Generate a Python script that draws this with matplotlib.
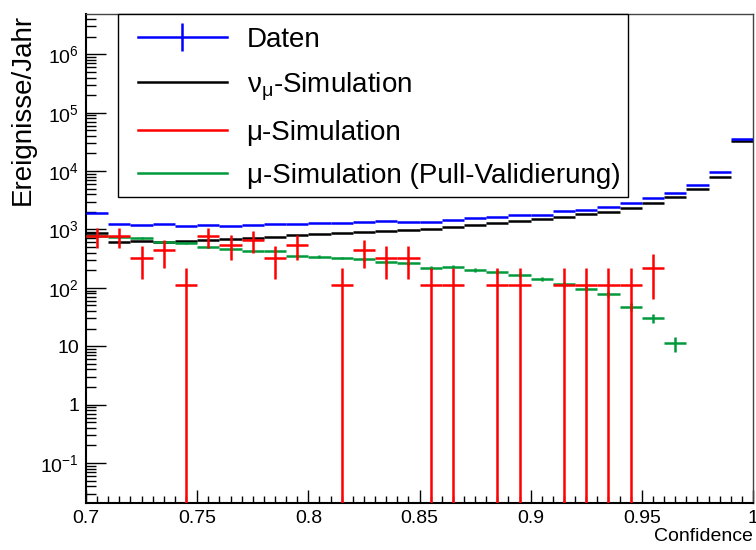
import numpy as np
import matplotlib
matplotlib.use('Agg')
import matplotlib.pyplot as plt
from matplotlib.lines import Line2D
from matplotlib.patches import Rectangle
from matplotlib import ticker

plt.rcParams['font.family'] = ['Liberation Sans', 'DejaVu Sans']
plt.rcParams['mathtext.fontset'] = 'custom'
plt.rcParams['mathtext.rm'] = 'Liberation Sans'
plt.rcParams['mathtext.it'] = 'Liberation Sans:italic'
plt.rcParams['mathtext.bf'] = 'Liberation Sans:bold'

# binning: 30 bins of width 0.01 between 0.7 and 1.0
bin_edges = np.linspace(0.70, 1.00, 31)

# Daten (blue)
data_vals = [1887, 1223, 1190, 1223, 1144, 1176, 1144, 1204, 1223, 1252,
             1272, 1272, 1323, 1376, 1366, 1323, 1449, 1549, 1611, 1742,
             1765, 2065, 2173, 2447, 2800, 3410, 4150, 5870, 9510, 35300]

# nu_mu simulation (black)
numu_vals = [858, 616, 632, 616, 641, 658, 677, 704, 732, 802,
             824, 858, 892, 939, 977, 1016, 1099, 1190, 1272, 1392,
             1489, 1611, 1836, 2010, 2353, 2800, 3590, 4920, 7980, 32300]

# mu simulation (red), 0 = empty bin
mu_vals = [770, 770, 330, 440, 110, 770, 550, 660, 330, 550,
           0, 110, 440, 330, 330, 110, 110, 0, 110, 110,
           0, 110, 110, 110, 110, 220, 0, 0, 0, 0]
mu_errs = [291, 291, 191, 220, 110, 291, 246, 269, 191, 246,
           0, 110, 220, 191, 191, 110, 110, 0, 110, 110,
           0, 110, 110, 110, 110, 156, 0, 0, 0, 0]

# mu simulation, pull validation (green)
pull_vals = [771, 750, 704, 601, 592, 505, 462, 427, 427, 350,
             341, 324, 307, 273, 266, 221, 230, 204, 189, 166,
             143, 116, 96.6, 79.3, 47.5, 30.1, 11.2, 0, 0, 0]
pull_errs = [28, 27, 27, 25, 24, 22, 21, 21, 21, 19,
             18, 18, 18, 17, 16, 15, 15, 14, 14, 13,
             12, 11, 9.8, 8.9, 6.9, 5.0, 3.3, 0, 0, 0]

centers = 0.5 * (bin_edges[:-1] + bin_edges[1:])
half_w = 0.5 * np.diff(bin_edges)

fig = plt.figure(figsize=(7.56, 5.5), dpi=100)
ax = fig.add_axes([86 / 756, 1 - 503.3 / 550, 667 / 756, 489.3 / 550])

lw = 1.8
green = '#00993a'

ax.errorbar(centers, numu_vals, xerr=half_w, fmt='none', ecolor='black', elinewidth=lw, zorder=2)

m = np.array(pull_vals) > 0
ax.errorbar(centers[m], np.array(pull_vals)[m], xerr=half_w[m], yerr=np.array(pull_errs)[m],
            fmt='none', ecolor=green, elinewidth=lw, zorder=3)

m = np.array(mu_vals) > 0
ax.errorbar(centers[m], np.array(mu_vals)[m], xerr=half_w[m], yerr=np.array(mu_errs)[m],
            fmt='none', ecolor='red', elinewidth=lw, zorder=4)

ax.errorbar(centers, data_vals, xerr=half_w, fmt='none', ecolor='blue', elinewidth=lw, zorder=5)

ax.set_yscale('log')
ax.set_xlim(0.7, 1.0)
ax.set_ylim(0.0204, 4.9e6)

# ticks
ax.xaxis.set_major_locator(ticker.MultipleLocator(0.05))
ax.xaxis.set_minor_locator(ticker.MultipleLocator(0.005))
ax.xaxis.set_major_formatter(ticker.FuncFormatter(lambda v, p: '%g' % round(v, 3)))
ax.yaxis.set_major_locator(ticker.FixedLocator([1e-1, 1, 10, 1e2, 1e3, 1e4, 1e5, 1e6]))
ax.yaxis.set_minor_locator(ticker.LogLocator(base=10, subs=np.arange(2, 10), numticks=20))
ax.yaxis.set_minor_formatter(ticker.NullFormatter())

def ylab(v, p):
    e = int(round(np.log10(v)))
    if e == 0:
        return '1'
    if e == 1:
        return '10'
    return r'$\mathregular{10^{%d}}$' % e

ax.yaxis.set_major_formatter(ticker.FuncFormatter(ylab))
ax.tick_params(which='both', direction='in', top=False, right=False, labelsize=14)
ax.tick_params(axis='x', which='major', length=9.4, width=1, pad=5)
ax.tick_params(axis='x', which='minor', length=5, width=1)
ax.tick_params(axis='y', which='major', length=14.4, width=1, pad=5)
ax.tick_params(axis='y', which='minor', length=7.2, width=1)

for s in ['left', 'bottom']:
    ax.spines[s].set_linewidth(1.5)
for s in ['top', 'right']:
    ax.spines[s].set_linewidth(1)
    ax.spines[s].set_color('#444444')

ax.set_ylabel('Ereignisse/Jahr', fontsize=20, loc='top')
ax.yaxis.set_label_coords(-0.076, 1.0)
ax.set_xlabel('Confidence', fontsize=14, loc='right')
ax.xaxis.set_label_coords(1.0, -0.05)

# legend box
ax.add_patch(Rectangle((0.0487, 0.6254), 0.7643, 0.3746, transform=ax.transAxes,
                       facecolor='white', edgecolor='black', lw=1, zorder=6, clip_on=False))

handles = [
    Line2D([], [], color='blue', lw=lw, marker='|', markersize=19.5, mew=lw),
    Line2D([], [], color='black', lw=lw),
    Line2D([], [], color='red', lw=lw),
    Line2D([], [], color=green, lw=lw),
]
labels = ['Daten', r'ν$_\mathregular{μ}$-Simulation', 'μ-Simulation', 'μ-Simulation (Pull-Validierung)']
leg = ax.legend(handles, labels, loc='upper left', bbox_to_anchor=(138 / 756, 1 - 27 / 550),
                bbox_transform=fig.transFigure, frameon=False, fontsize=20, numpoints=1,
                handlelength=3.2, handletextpad=0.71, labelspacing=0.62,
                borderpad=0, borderaxespad=0)
leg.set_zorder(7)

fig.savefig('out.png', dpi=100)
